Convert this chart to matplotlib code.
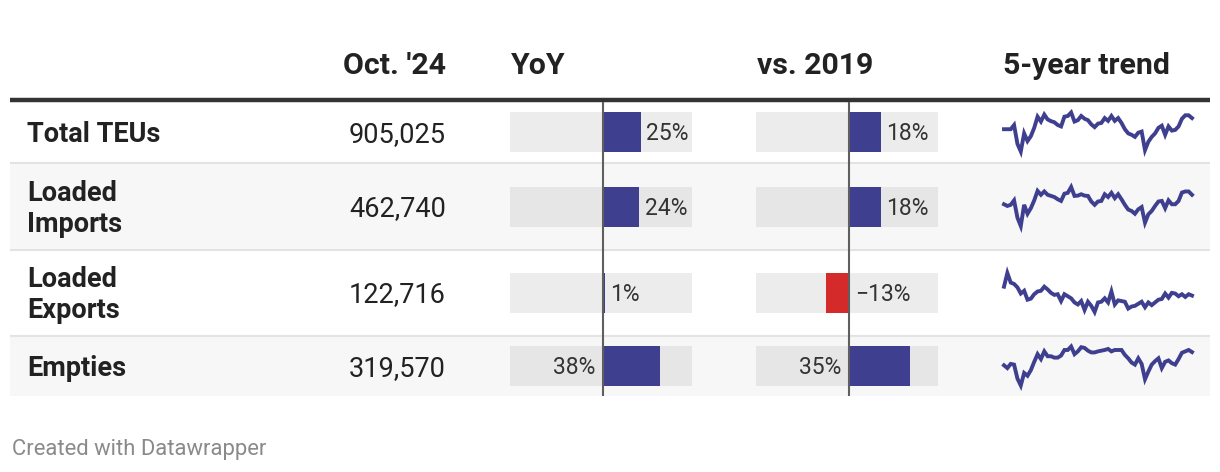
import matplotlib
matplotlib.use("Agg")
import matplotlib.pyplot as plt

plt.rcParams['font.family'] = ['Roboto', 'DejaVu Sans']

# ---------------- data ----------------
rows = ["Total TEUs", "Loaded\nImports", "Loaded\nExports", "Empties"]
oct24 = [905025, 462740, 122716, 319570]
yoy = [25, 24, 1, 38]
vs2019 = [18, 18, -13.4, 35]
headers = ["Oct. '24", "YoY", "vs. 2019", "5-year trend"]

# 5-year monthly trend (thousands of TEUs, read from sparklines)
trend_total = [825, 825, 825, 855, 720, 665, 795, 740, 775, 835, 915, 880, 930, 895, 883,
               875, 855, 845, 915, 920, 945, 880, 890, 920, 900, 890, 860, 840, 865, 870,
               905, 885, 920, 885, 905, 870, 825, 795, 785, 770, 800, 808, 675, 735, 770,
               795, 835, 850, 785, 845, 815, 820, 845, 900, 925, 925, 905]
trend_imports = [429, 423, 427, 443, 381, 351, 427, 395, 415, 443, 477, 463, 475, 463, 459,
                 455, 447, 441, 467, 470, 491, 459, 460, 465, 460, 459, 439, 427, 439, 441,
                 465, 455, 470, 451, 465, 447, 427, 410, 405, 395, 411, 419, 363, 393, 405,
                 423, 439, 441, 415, 443, 429, 429, 441, 471, 475, 475, 463]
trend_exports = [130.5, 142.5, 134.1, 132.9, 129.9, 124.5, 126.9, 119.1, 120.0, 123.9, 126.3,
                 126.9, 130.5, 128.1, 125.1, 123.3, 123.9, 117.9, 123.9, 122.1, 120.3, 116.7,
                 114.9, 117.9, 110.1, 117.3, 113.7, 108.3, 116.7, 117.3, 120.3, 116.7, 126.3,
                 114.9, 118.5, 117.9, 117.3, 111.3, 113.1, 113.7, 115.5, 117.3, 112.5, 116.7,
                 114.3, 116.7, 119.1, 119.7, 124.5, 120.9, 125.1, 124.5, 122.1, 123.9, 121.5,
                 123.9, 122.7]
trend_empties = [282, 274, 286, 284, 244, 224, 260, 252, 268, 292, 314, 300, 322, 308, 308,
                 304, 304, 310, 326, 326, 336, 314, 322, 334, 332, 324, 319, 319, 322, 324,
                 326, 329, 322, 326, 326, 326, 312, 302, 290, 284, 302, 286, 242, 264, 284,
                 294, 302, 274, 292, 296, 288, 284, 300, 318, 322, 326, 320]
trends = [trend_total, trend_imports, trend_exports, trend_empties]

# ---------------- style / layout ----------------
W, H = 1220, 472
NAVY = "#3f3f8f"
RED = "#d52a2a"
TXT = "#222222"
row_top = [102, 164, 250, 336]
row_bot = [162, 249, 335, 396]
row_bg = ["#ffffff", "#f7f7f7", "#ffffff", "#f7f7f7"]
cell_bg = ["#ececec", "#e6e6e6", "#ececec", "#e6e6e6"]
centers = [(a + b) / 2 for a, b in zip(row_top, row_bot)]

fig = plt.figure(figsize=(W / 100, H / 100), dpi=100)
fig.patch.set_facecolor("white")
ax = fig.add_axes([0, 0, 1, 1])
ax.set_xlim(0, W)
ax.set_ylim(H, 0)
ax.axis("off")


def px_axes(x0, y0, x1, y1):
    return fig.add_axes([x0 / W, 1 - y1 / H, (x1 - x0) / W, (y1 - y0) / H])


# row backgrounds and separators
for i in range(4):
    ax.axhspan(row_top[i], row_bot[i], xmin=10 / W, xmax=1210 / W, color=row_bg[i], lw=0, zorder=0)
for i in range(3):
    y = (row_bot[i] + row_top[i + 1]) / 2
    ax.plot([10, 1210], [y, y], color="#e3e3e3", lw=1.5, solid_capstyle="butt", zorder=1)
ax.plot([10, 1210], [100, 100], color="#333333", lw=3.2, solid_capstyle="butt", zorder=2)

# headers
hfs = 21.8
ax.text(446, 74, headers[0], ha="right", va="baseline", fontsize=hfs, fontweight="bold", color=TXT)
ax.text(511, 74, headers[1], ha="left", va="baseline", fontsize=hfs, fontweight="bold", color=TXT)
ax.text(757, 74, headers[2], ha="left", va="baseline", fontsize=hfs, fontweight="bold", color=TXT)
ax.text(1003, 74, headers[3], ha="left", va="baseline", fontsize=hfs, fontweight="bold", color=TXT)

# row labels and values
bfs = 19.5
for i, lab in enumerate(rows):
    lines = lab.split("\n")
    n = len(lines)
    for k, line in enumerate(lines):
        yb = centers[i] + 9.6 + (k - (n - 1) / 2) * 31
        ax.text(27, yb, line, ha="left", va="baseline", fontsize=bfs, fontweight="bold", color=TXT)
    ax.text(446, centers[i] + 9.6, f"{oct24[i]:,}", ha="right", va="baseline",
            fontsize=bfs, color=TXT)

# bar columns
def bar_column(vals, x0, x1, zero, scale):
    bx = px_axes(x0, 102, x1, 396)
    xmin, xmax = -(zero - x0) / scale, (x1 - zero) / scale
    bx.set_xlim(xmin, xmax)
    bx.set_ylim(396, 102)
    bx.axis("off")
    bx.patch.set_alpha(0)
    bx.barh(centers, [xmax - xmin] * 4, left=xmin, height=40, color=cell_bg, lw=0, zorder=1)
    bx.barh(centers, vals, left=0, height=40,
            color=[NAVY if v >= 0 else RED for v in vals], lw=0, zorder=2)
    bx.axvline(0, color="#5f5f5f", lw=1.5, zorder=3)
    off = 4.3
    for c, v in zip(centers, vals):
        lab = f"{round(v):d}%".replace("-", "\u2212")
        if v < 0:
            bx.annotate(lab, (0, c + 8.2), xytext=(off, 0), textcoords="offset points",
                        ha="left", va="baseline", fontsize=16.5, color="#333333", zorder=4)
        elif v * scale + 50 <= (x1 - zero):
            bx.annotate(lab, (v, c + 8.2), xytext=(off, 0), textcoords="offset points",
                        ha="left", va="baseline", fontsize=16.5, color="#333333", zorder=4)
        else:
            bx.annotate(lab, (0, c + 8.2), xytext=(-off * 1.3, 0), textcoords="offset points",
                        ha="right", va="baseline", fontsize=16.5, color="#333333", zorder=4)


bar_column(yoy, 510, 692, 603, 1.5)
bar_column(vs2019, 756, 938, 849, 1.75)

# sparklines
for i, series in enumerate(trends):
    sx = px_axes(1004, centers[i] - 19.5, 1192, centers[i] + 19.5)
    sx.plot(range(len(series)), series, color=NAVY, lw=2.8, solid_joinstyle="miter",
            clip_on=False)
    sx.set_xlim(0, len(series) - 1)
    sx.set_ylim(min(series), max(series))
    sx.axis("off")
    sx.patch.set_alpha(0)

# footer
ax.text(12, 455, "Created with Datawrapper", ha="left", va="baseline", fontsize=15.8,
        color="#8a8a8a")

fig.savefig("out.png", dpi=100, facecolor="white")
